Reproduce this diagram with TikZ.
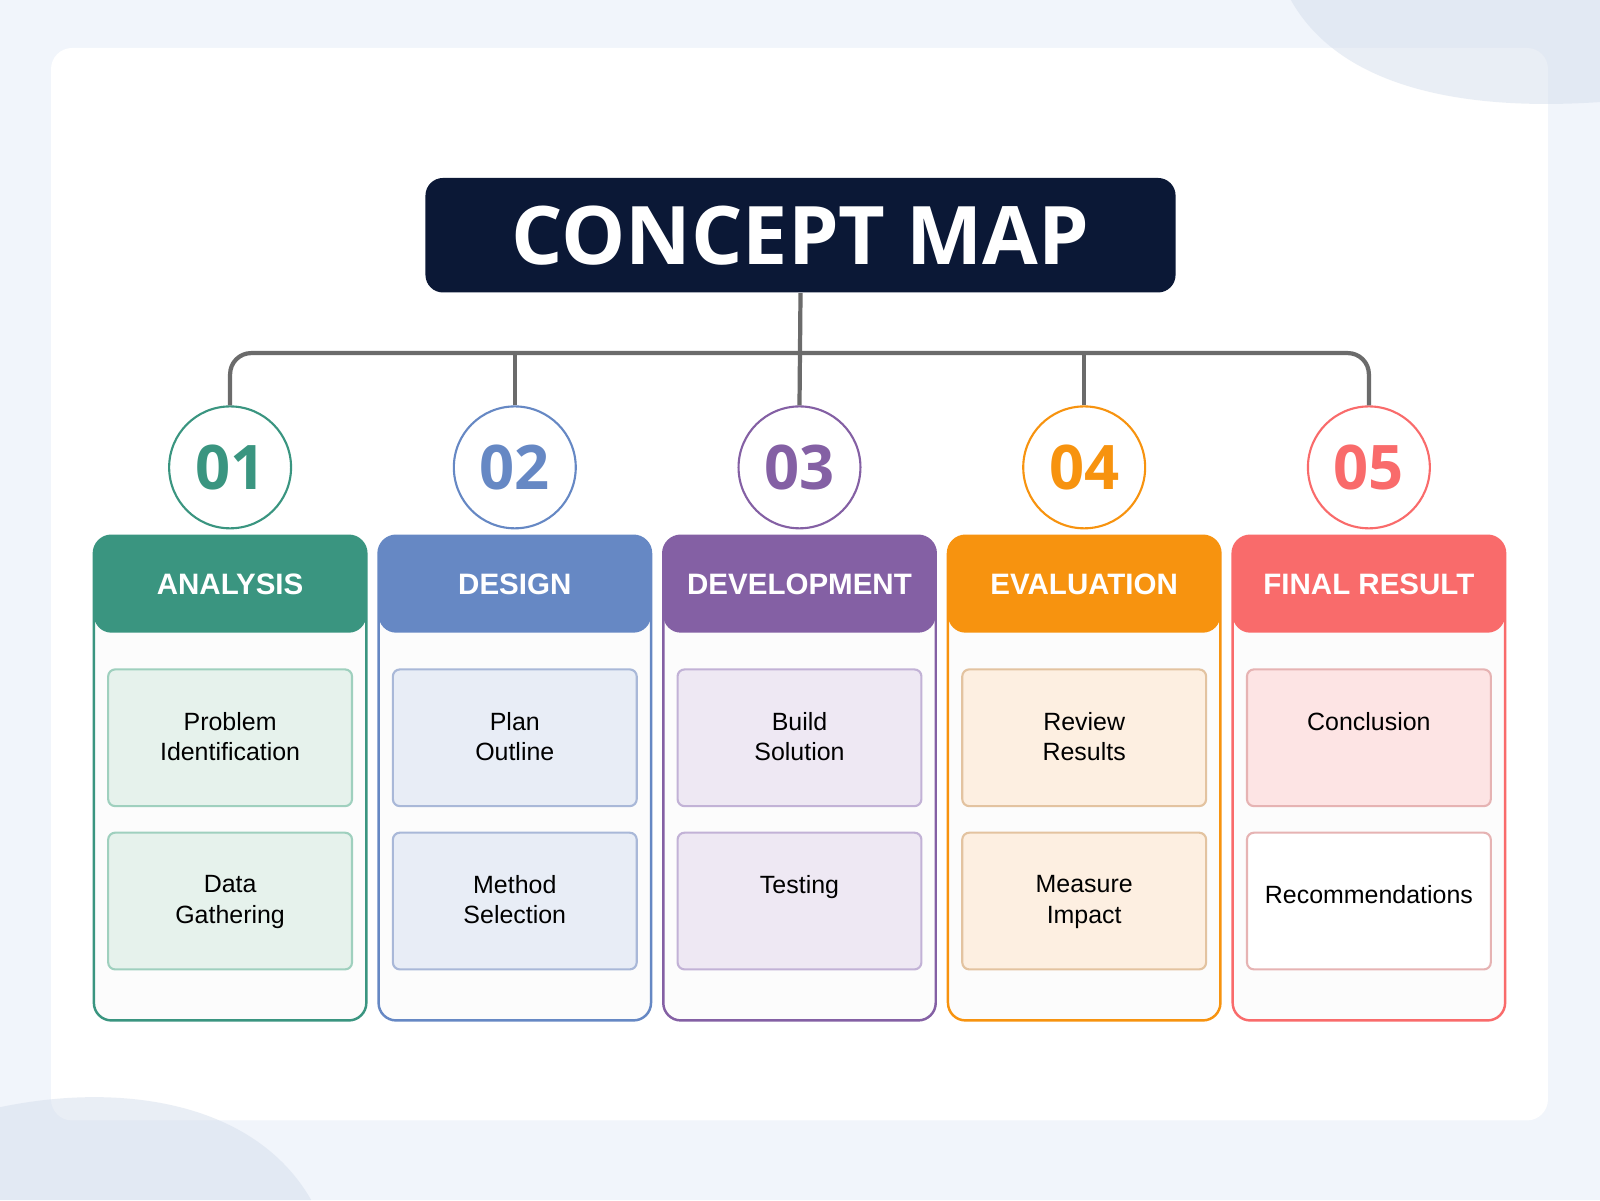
\documentclass[tikz,border=0pt]{standalone}
\usepackage{fontspec}
\setmainfont{Liberation Sans}
\newfontfamily\titlefont{Open Sans}
\usetikzlibrary{positioning}
\definecolor{bgblue}{HTML}{F1F5FB}
\definecolor{deco}{HTML}{D5DEEC}
\definecolor{navy}{HTML}{0B1836}
\definecolor{linegray}{HTML}{6B6B6B}
\definecolor{cA}{HTML}{3A9580}\definecolor{fA}{HTML}{E6F2EC}\definecolor{bA}{HTML}{9FD0BE}
\definecolor{cB}{HTML}{6688C4}\definecolor{fB}{HTML}{E8EDF6}\definecolor{bB}{HTML}{A9B8D8}
\definecolor{cC}{HTML}{8460A4}\definecolor{fC}{HTML}{EEE8F3}\definecolor{bC}{HTML}{C2B2D6}
\definecolor{cD}{HTML}{F7930F}\definecolor{fD}{HTML}{FDEFE1}\definecolor{bD}{HTML}{E3C3A0}
\definecolor{cE}{HTML}{F96B6B}\definecolor{fE}{HTML}{FDE4E4}\definecolor{bE}{HTML}{E6B3B3}
\begin{document}
\begin{tikzpicture}[x=0.010204cm,y=-0.010204cm]
    \tikzstyle{card}=[line width=0.7pt,rounded corners=5pt,fill=white!98!gray]
    \tikzstyle{head}=[rounded corners=5pt]
    \tikzstyle{item}=[line width=0.6pt,rounded corners=2pt]
    \tikzstyle{num}=[circle,draw,line width=0.6pt,fill=white,minimum size=34.7pt,inner sep=0pt,
        font=\titlefont\bfseries\fontsize{17.5}{17.5}\selectfont]
    \tikzstyle{lines}=[draw=linegray,line width=1.2pt,rounded corners=6pt]
    \tikzstyle{body}=[font=\fontsize{7.1}{8.6}\selectfont]
    \tikzstyle{hdtext}=[text=white,font=\bfseries\fontsize{8.4}{8.4}\selectfont]
    \useasboundingbox (0,0) rectangle (1568,1176);
    \fill[bgblue] (0,0) rectangle (1568,1176);
    \fill[white,rounded corners=6pt] (50,47) rectangle (1517,1098);
    % corner shapes
    \fill[deco,opacity=0.5] (1265,0) .. controls (1310,80) and (1420,110) .. (1568,100)
        -- (1568,0) -- cycle;
    \fill[deco,opacity=0.5] (0,1085) .. controls (120,1060) and (250,1080) .. (305,1176)
        -- (0,1176) -- cycle;
    \node[fill=navy,rounded corners=5pt,minimum width=213.5pt,minimum height=32.6pt,text=white,
        font=\titlefont\bfseries\fontsize{23}{23}\selectfont] (title) at (784.5,230.5) {CONCEPT MAP};
    \foreach \i/\c/\hd/\ta/\tb in {1/A/ANALYSIS/Problem\\Identification/Data\\Gathering,
        2/B/DESIGN/Plan\\Outline/Method\\Selection,
        3/C/DEVELOPMENT/Build\\Solution/Testing,
        4/D/EVALUATION/Review\\Results/Measure\\Impact}{
      \pgfmathsetmacro{\xl}{92+279*(\i-1)}
      \draw[card,draw=c\c] (\xl,525) rectangle ++(267,475);
      \fill[head,fill=c\c] (\xl,525) rectangle ++(267,95);
      \node[hdtext] (h\i) at (\xl+133.5,572.5) {\hd};
      \node[num,draw=c\c,text=c\c] (c\i) at (\xl+133.5,458) {0\i};
      \draw[item,draw=b\c,fill=f\c] (\xl+14,656) rectangle ++(239,134);
      \draw[item,draw=b\c,fill=f\c] (\xl+14,816) rectangle ++(239,134);
      \node[body,align=center,anchor=north] (p\i) at (\xl+133.5,686) {\ta};
      \node[body,align=center,anchor=north] (q\i) at (\xl+133.5,846) {\tb};
    }
    % final column
    \draw[card,draw=cE] (1208,525) rectangle ++(267,475);
    \fill[head,fill=cE] (1208,525) rectangle ++(267,95);
    \node[hdtext] (h5) at (1341.5,572.5) {FINAL RESULT};
    \node[num,draw=cE,text=cE] (c5) at (1341.5,458) {05};
    \draw[item,draw=bE,fill=fE] (1222,656) rectangle ++(239,134);
    \draw[item,draw=bE,fill=white] (1222,816) rectangle ++(239,134);
    \node[body,anchor=north] (p5) at (1341.5,686) {Conclusion};
    \node[body] (q5) at (1341.5,877) {Recommendations};
    % connectors
    \coordinate (bus) at (784.5,346);
    \draw[lines] (c1.north) |- (bus) -| (c5.north);
    \draw[lines] (title.south) -- (c3.north);
    \draw[lines] (c2.north) -- (c2.north |- bus);
    \draw[lines] (c4.north) -- (c4.north |- bus);
\end{tikzpicture}
\end{document}
